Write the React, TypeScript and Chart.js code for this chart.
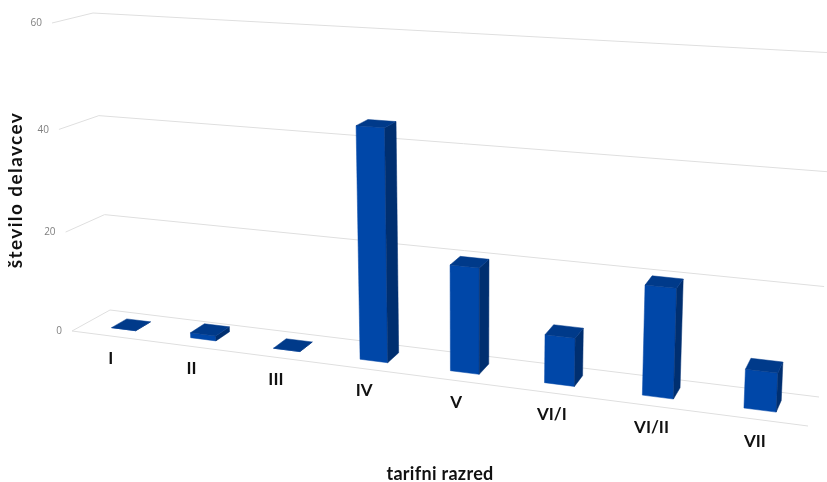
import React, { useEffect, useRef } from "react";
import { Chart, registerables } from "chart.js";

Chart.register(...registerables);

const categories = ["I", "II", "III", "IV", "V", "VI/I", "VI/II", "VII"];
const workers = [0, 1, 0, 44, 20, 9, 20, 7];
const yTickValues = [0, 20, 40, 60];
const yMax = 60;
const yTitle = "število delavcev";
const xTitle = "tarifni razred";

const W = 827;
const H = 482;
// Perspective box corners (layout only): [x, y]
const box = {
  bottomBackLeft: [110, 310],
  bottomBackRight: [819, 397],
  bottomFrontLeft: [72, 331],
  bottomFrontRight: [808, 426],
  topBackLeft: [93, 13],
  topBackRight: [835, 53],
  topFrontLeft: [52, 23],
  topFrontRight: [825, 67],
};
const lerp = (a: number, b: number, t: number) => a + (b - a) * t;
const warpU = (t: number) => t * (0.835 + 0.165 * t);
const warpV = (t: number) => t * (0.945 + 0.055 * t);

function project(t: number, v: number, d: number): [number, number] {
  const u = warpU(t);
  const h = warpV(v);
  const out: number[] = [0, 0];
  for (let i = 0; i < 2; i++) {
    const bb = lerp(box.bottomBackLeft[i], box.bottomBackRight[i], u);
    const bf = lerp(box.bottomFrontLeft[i], box.bottomFrontRight[i], u);
    const tb = lerp(box.topBackLeft[i], box.topBackRight[i], u);
    const tf = lerp(box.topFrontLeft[i], box.topFrontRight[i], u);
    out[i] = lerp(lerp(bb, bf, d), lerp(tb, tf, d), h);
  }
  return [out[0], out[1]];
}

const DEPTH_BACK = 0.27;
const DEPTH_FRONT = 0.68;
const BAR_NUDGE_X = 1;
const FRONT_COLOR = "#0047a8";
const SIDE_COLOR = "#002f70";
const TOP_COLOR = "#003a8a";
const GRID_COLOR = "#dfdfdf";
const TICK_COLOR = "#808080";
const TEXT_COLOR = "#111111";

function poly(ctx: CanvasRenderingContext2D, pts: [number, number][], fill: string) {
  ctx.beginPath();
  pts.forEach((p, i) => (i ? ctx.lineTo(p[0], p[1]) : ctx.moveTo(p[0], p[1])));
  ctx.closePath();
  ctx.fillStyle = fill;
  ctx.fill();
  ctx.strokeStyle = fill;
  ctx.lineWidth = 0.5;
  ctx.stroke();
}

function line(ctx: CanvasRenderingContext2D, pts: [number, number][]) {
  ctx.beginPath();
  pts.forEach((p, i) => (i ? ctx.lineTo(p[0], p[1]) : ctx.moveTo(p[0], p[1])));
  ctx.strokeStyle = GRID_COLOR;
  ctx.lineWidth = 1;
  ctx.stroke();
}

const perspectivePlugin = {
  id: "perspective",
  beforeDatasetsDraw(chart: any) {
    const { ctx } = chart;
    const ys = chart.scales.y;
    const xs = chart.scales.x;
    ctx.save();
    ys.ticks.forEach((tick: any) => {
      const v = (ys.bottom - ys.getPixelForValue(tick.value)) / ys.height;
      line(ctx, [project(0, v, 1), project(0, v, 0), project(1, v, 0)]);
      const p = project(0, v, 1);
      ctx.fillStyle = TICK_COLOR;
      ctx.font = '400 10px "Open Sans"';
      ctx.textAlign = "right";
      ctx.textBaseline = "middle";
      ctx.fillText(String(tick.value), p[0] - 10, p[1] + 0.5);
    });
    line(ctx, [project(0, 0, 1), project(1, 0, 1)]);

    ctx.fillStyle = TEXT_COLOR;
    ctx.font = '700 17px Lato';
    ctx.textAlign = "center";
    ctx.textBaseline = "middle";
    xs.ticks.forEach((_: any, i: number) => {
      const t = (xs.getPixelForTick(i) - xs.left) / xs.width;
      const p = project(t, 0, 1);
      ctx.fillText(categories[i], p[0], p[1] + 22);
    });

    ctx.font = '700 18px Lato';
    (ctx as any).letterSpacing = "0.3px";
    ctx.fillText(xTitle, 440, 474);
    (ctx as any).letterSpacing = "1.4px";
    ctx.font = '700 19px Lato';
    ctx.translate(16, 190);
    ctx.rotate(-Math.PI / 2);
    ctx.fillText(yTitle, 0, 0);
    (ctx as any).letterSpacing = "0px";
    ctx.restore();
  },
  beforeDatasetDraw() {
    return false;
  },
  afterDatasetsDraw(chart: any) {
    const { ctx } = chart;
    const xs = chart.scales.x;
    const ys = chart.scales.y;
    const meta = chart.getDatasetMeta(0);
    ctx.save();
    ctx.translate(BAR_NUDGE_X, 0);
    meta.data.forEach((el: any) => {
      const t0 = (el.x - el.width / 2 - xs.left) / xs.width;
      const t1 = (el.x + el.width / 2 - xs.left) / xs.width;
      const v0 = (ys.bottom - el.base) / ys.height;
      const v1 = (ys.bottom - el.y) / ys.height;
      const a = project(t0, v1, DEPTH_FRONT);
      const b = project(t1, v1, DEPTH_FRONT);
      const c = project(t1, v0, DEPTH_FRONT);
      const e = project(t0, v0, DEPTH_FRONT);
      const bt = project(t1, v1, DEPTH_BACK);
      const bb = project(t1, v0, DEPTH_BACK);
      const at = project(t0, v1, DEPTH_BACK);
      poly(ctx, [a, b, c, e], FRONT_COLOR);
      poly(ctx, [b, bt, bb, c], SIDE_COLOR);
      poly(ctx, [a, at, bt, b], TOP_COLOR);
    });
    ctx.restore();
  },
};

export default function App() {
  const ref = useRef<HTMLCanvasElement | null>(null);
  useEffect(() => {
    document.body.style.margin = "0";
    const chart = new Chart(ref.current!, {
      type: "bar",
      data: {
        labels: categories,
        datasets: [
          {
            label: yTitle,
            data: workers,
            backgroundColor: FRONT_COLOR,
            barPercentage: 0.31,
            categoryPercentage: 1,
          },
        ],
      },
      options: {
        animation: false,
        responsive: false,
        devicePixelRatio: 1,
        layout: { padding: 0 },
        plugins: { legend: { display: false }, tooltip: { enabled: false } },
        scales: {
          x: { display: false, title: { display: false, text: xTitle } },
          y: {
            display: false,
            min: yTickValues[0],
            max: yMax,
            ticks: { stepSize: 20 },
            title: { display: false, text: yTitle },
          },
        },
      },
      plugins: [perspectivePlugin],
    } as any);
    return () => chart.destroy();
  }, []);
  return <canvas ref={ref} width={W} height={H} style={{ display: "block" }} />;
}
